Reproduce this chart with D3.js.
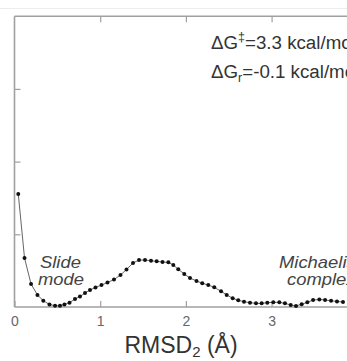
<!DOCTYPE html>
<html><head><meta charset="utf-8">
<script src="https://cdn.jsdelivr.net/npm/d3@7"></script>
<style>
html,body{margin:0;padding:0;background:#fff;overflow:hidden;}
svg{display:block;font-family:"Liberation Sans",Arial,sans-serif;}
</style></head>
<body><svg id="c" width="347" height="361"></svg>
<script>
// RMSD2 (Å) values of the profile points
const rmsd = [0.044,0.117,0.193,0.268,0.336,0.408,0.473,0.531,0.583,0.642,0.706,0.764,0.823,0.881,0.945,1.015,1.085,1.161,1.237,1.307,1.383,1.453,1.523,1.593,1.659,1.727,1.795,1.853,1.911,1.981,2.048,2.124,2.191,2.261,2.331,2.410,2.476,2.546,2.611,2.678,2.748,2.818,2.884,2.950,3.020,3.090,3.156,3.223,3.285,3.351,3.417,3.484,3.557,3.624,3.694,3.763,3.833];
// free energy (kcal/mol)
const energy = [7.77,3.37,1.58,0.83,0.43,0.17,0.09,0.09,0.17,0.30,0.55,0.72,0.96,1.17,1.34,1.51,1.68,1.89,2.20,2.58,3.03,3.23,3.23,3.18,3.14,3.09,3.07,2.89,2.59,2.27,1.99,1.79,1.63,1.51,1.35,1.08,0.83,0.60,0.46,0.36,0.30,0.25,0.25,0.30,0.32,0.32,0.25,0.14,0.07,0.19,0.32,0.48,0.52,0.48,0.43,0.38,0.34];
const xTicks = [0,1,2,3];
const yTicks = [0,5,10,15,20];

const svg = d3.select("#c");
const x = d3.scaleLinear().domain([0,3.86]).range([14.5,345.3]);
const y = d3.scaleLinear().domain([0,20]).range([307,16.2]);
const axisCol = "#a0a0a0";

// faint scan line at very top
svg.append("line").attr("x1",0).attr("x2",347).attr("y1",8.5).attr("y2",8.5)
  .attr("stroke","#ececec").attr("stroke-width",1);

// bottom axis
const gx = svg.append("g").attr("transform",`translate(0,${y(0)})`)
  .call(d3.axisBottom(x).tickValues(xTicks).tickSize(-6).tickPadding(9).tickFormat(d3.format("d")));
gx.select(".domain").attr("d",`M${x(0)},0H347`).attr("stroke",axisCol).attr("stroke-width",1.6);
gx.selectAll(".tick line").attr("stroke",axisCol).attr("stroke-width",1.2);
gx.selectAll(".tick text").attr("font-size",14).attr("fill","#666").attr("font-family","Liberation Sans, Arial, sans-serif");

// top axis
const gt = svg.append("g").attr("transform",`translate(0,${y(20)})`)
  .call(d3.axisTop(x).tickValues(xTicks.filter(d=>d>0)).tickSize(-6).tickFormat(""));
gt.select(".domain").attr("d",`M${x(0)},0H347`).attr("stroke",axisCol).attr("stroke-width",1.6);
gt.selectAll(".tick line").attr("stroke",axisCol).attr("stroke-width",1.2);

// left axis
const gy = svg.append("g").attr("transform",`translate(${x(0)},0)`)
  .call(d3.axisLeft(y).tickValues(yTicks.slice(1,4)).tickSize(-6).tickFormat(""));
gy.select(".domain").attr("d",`M0,${y(20)}V${y(0)}`).attr("stroke",axisCol).attr("stroke-width",1.6);
gy.selectAll(".tick line").attr("stroke",axisCol).attr("stroke-width",1.2);

// profile line + dots
const pts = rmsd.map((r,i)=>({r, e:energy[i]}));
svg.append("path").datum(pts)
  .attr("d", d3.line().x(d=>x(d.r)).y(d=>y(d.e)))
  .attr("fill","none").attr("stroke","#666").attr("stroke-width",1);
svg.append("g").selectAll("circle").data(pts).join("circle")
  .attr("cx",d=>x(d.r)).attr("cy",d=>y(d.e)).attr("r",2).attr("fill","#111");

// annotations
const ann = svg.append("g").attr("fill","#333").attr("font-size",18);
const t1 = ann.append("text").attr("transform","translate(211,49) scale(1.04,1)");
t1.append("tspan").text("ΔG");
t1.append("tspan").attr("font-size",12).attr("dy",-8).text("‡");
t1.append("tspan").attr("dy",8).text("=3.3 kcal/mol");
const t2 = ann.append("text").attr("transform","translate(211,78) scale(1.04,1)");
t2.append("tspan").text("ΔG");
t2.append("tspan").attr("font-size",12).attr("dy",4).text("r");
t2.append("tspan").attr("dy",-4).text("=-0.1 kcal/mol");

const lab = svg.append("g").attr("fill","#444").attr("font-size",16).attr("font-style","italic");
lab.append("text").attr("transform","translate(40,268) scale(1.15,1)").text("Slide");
lab.append("text").attr("transform","translate(38,285) scale(1.15,1)").text("mode");
lab.append("text").attr("transform","translate(279,268) scale(1.15,1)").text("Michaelis");
lab.append("text").attr("transform","translate(287,285) scale(1.15,1)").text("complex");

// x axis title
const xt = svg.append("text").attr("x",181).attr("y",353).attr("text-anchor","middle")
  .attr("fill","#333").attr("font-size",23);
xt.append("tspan").text("RMSD");
xt.append("tspan").attr("font-size",15).attr("dy",4).text("2");
xt.append("tspan").attr("dy",-4).text(" (Å)");
</script></body></html>
